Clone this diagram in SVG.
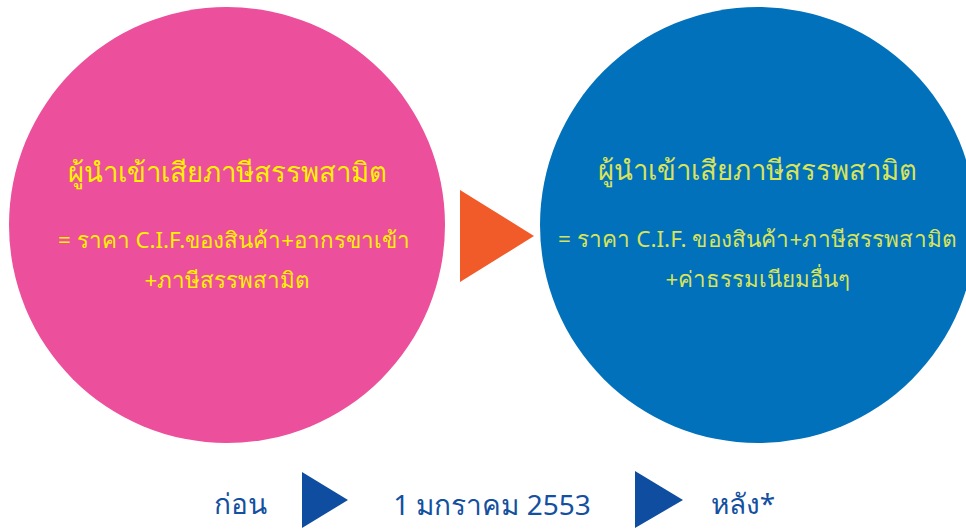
<svg xmlns="http://www.w3.org/2000/svg" width="966" height="529" viewBox="0 0 966 529">
<style>
text{font-family:"Noto Sans","DejaVu Sans",sans-serif;text-anchor:middle;font-weight:normal}
.t{font-size:27.5px}
.b{font-size:22.3px}
.y{fill:#FFF200}
.g{fill:#D9E35B}
.bt{font-size:28px;fill:#1450A0}
.arr{fill:#0E4DA0}
</style>
<rect width="966" height="529" fill="#FFFFFF"/>
<g id="before">
<circle cx="227" cy="225" r="218" fill="#EC4F9B"/>
<text class="t y" x="227" y="182">ผู้นำเข้าเสียภาษีสรรพสามิต</text>
<text class="b y" x="234" y="248">= ราคา C.I.F.ของสินค้า+อากรขาเข้า</text>
<text class="b y" x="227" y="288">+ภาษีสรรพสามิต</text>
</g>
<g id="after">
<circle cx="758" cy="225" r="218" fill="#0071BA"/>
<text class="t g" x="757" y="180">ผู้นำเข้าเสียภาษีสรรพสามิต</text>
<text class="b g" x="757" y="247" textLength="398" lengthAdjust="spacingAndGlyphs">= ราคา C.I.F. ของสินค้า+ภาษีสรรพสามิต</text>
<text class="b g" x="758" y="287">+ค่าธรรมเนียมอื่นๆ</text>
</g>
<g id="connectors">
<polygon points="460,190 460,282 534,236" fill="#F15A29"/>
<polygon class="arr" points="302,472 302,528 348,500"/>
<polygon class="arr" points="635,471 635,528 683,500"/>
</g>
<g id="timeline">
<text class="bt" x="240" y="514">ก่อน</text>
<text class="bt" x="492" y="515">1 มกราคม 2553</text>
<text class="bt" x="743" y="514">หลัง*</text>
</g>
</svg>
